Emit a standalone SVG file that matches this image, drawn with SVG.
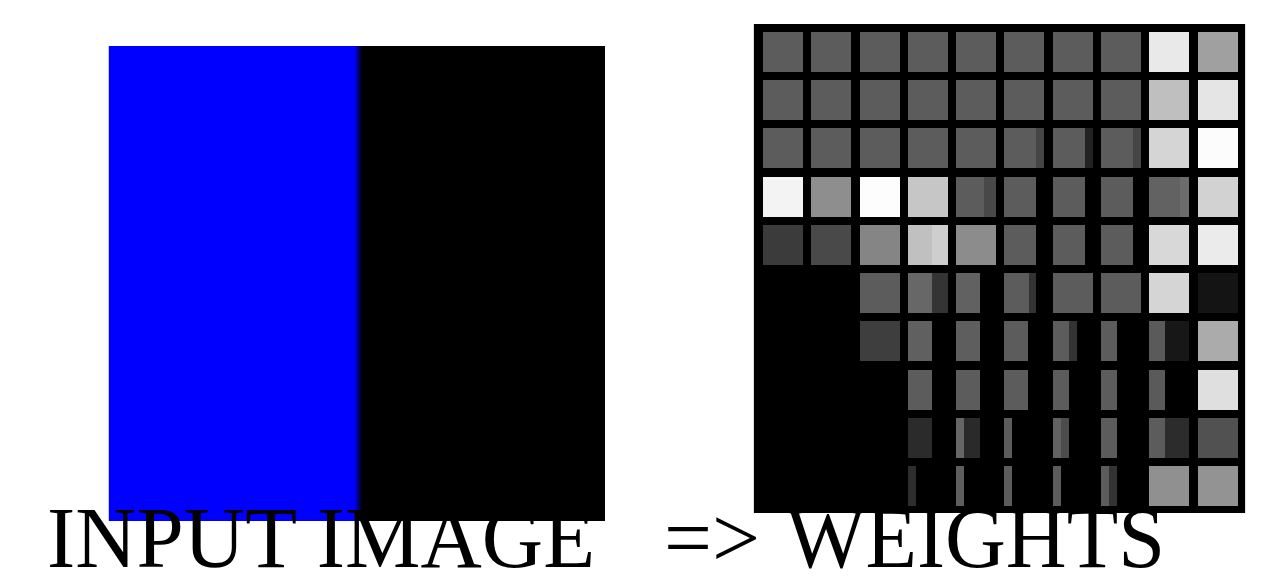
<svg xmlns="http://www.w3.org/2000/svg" width="1279" height="576" viewBox="0 0 1279 576">
  <defs>
    <linearGradient id="bk" x1="0" y1="0" x2="1" y2="0">
      <stop offset="0" stop-color="#0000ff"/>
      <stop offset="0.495" stop-color="#0000ff"/>
      <stop offset="0.51" stop-color="#000000"/>
      <stop offset="1" stop-color="#000000"/>
    </linearGradient>
    <style>
      .g{fill:#5c5c5c}
      .lbl{font-family:"Liberation Serif","Times New Roman",serif;font-size:87px;fill:#000}
    </style>
  </defs>
  <rect width="1279" height="576" fill="#ffffff"/>
  <g id="input-image">
    <rect x="108" y="46" width="2" height="475" fill="#c8c8f0"/>
    <rect x="109" y="46" width="496" height="475" fill="url(#bk)"/>
  </g>
  <g id="weights">
    <rect x="753" y="24" width="493" height="489" fill="#e0e0e0"/>
    <rect x="754" y="24" width="491" height="489" fill="#000"/>
    <!-- row 1 -->
    <rect class="g" x="763" y="32" width="40" height="40"/>
    <rect class="g" x="811" y="32" width="40" height="40"/>
    <rect class="g" x="860" y="32" width="40" height="40"/>
    <rect class="g" x="908" y="32" width="40" height="40"/>
    <rect class="g" x="956" y="32" width="40" height="40"/>
    <rect class="g" x="1004" y="32" width="40" height="40"/>
    <rect class="g" x="1053" y="32" width="40" height="40"/>
    <rect class="g" x="1101" y="32" width="40" height="40"/>
    <rect x="1149" y="32" width="40" height="40" fill="#e9e9e9"/>
    <rect x="1198" y="32" width="40" height="40" fill="#a0a0a0"/>
    <!-- row 2 -->
    <rect class="g" x="763" y="80" width="40" height="40"/>
    <rect class="g" x="811" y="80" width="40" height="40"/>
    <rect class="g" x="860" y="80" width="40" height="40"/>
    <rect class="g" x="908" y="80" width="40" height="40"/>
    <rect class="g" x="956" y="80" width="40" height="40"/>
    <rect class="g" x="1004" y="80" width="40" height="40"/>
    <rect class="g" x="1053" y="80" width="40" height="40"/>
    <rect class="g" x="1101" y="80" width="40" height="40"/>
    <rect x="1149" y="80" width="40" height="40" fill="#bfbfbf"/>
    <rect x="1198" y="80" width="40" height="40" fill="#e5e5e5"/>
    <!-- row 3 -->
    <rect class="g" x="763" y="128" width="40" height="40"/>
    <rect class="g" x="811" y="128" width="40" height="40"/>
    <rect class="g" x="860" y="128" width="40" height="40"/>
    <rect class="g" x="908" y="128" width="40" height="40"/>
    <rect class="g" x="956" y="128" width="40" height="40"/>
    <rect class="g" x="1004" y="128" width="32" height="40"/>
    <rect x="1036" y="128" width="8" height="40" fill="#454545"/>
    <rect class="g" x="1053" y="128" width="32" height="40"/>
    <rect x="1085" y="128" width="8" height="40" fill="#222222"/>
    <rect class="g" x="1101" y="128" width="32" height="40"/>
    <rect x="1133" y="128" width="8" height="40" fill="#464646"/>
    <rect x="1149" y="128" width="40" height="40" fill="#d5d5d5"/>
    <rect x="1198" y="128" width="40" height="40" fill="#fcfcfc"/>
    <!-- row 4 -->
    <rect x="763" y="177" width="40" height="40" fill="#f3f3f3"/>
    <rect x="811" y="177" width="40" height="40" fill="#8e8e8e"/>
    <rect x="860" y="177" width="40" height="40" fill="#fdfdfd"/>
    <rect x="908" y="177" width="40" height="40" fill="#c6c6c6"/>
    <rect class="g" x="956" y="177" width="40" height="40"/>
    <rect x="984" y="177" width="12" height="40" fill="#484848"/>
    <rect class="g" x="1004" y="177" width="32" height="40"/>
    <rect class="g" x="1053" y="177" width="32" height="40"/>
    <rect class="g" x="1101" y="177" width="32" height="40"/>
    <rect x="1149" y="177" width="40" height="40" fill="#626262"/>
    <rect x="1180" y="177" width="9" height="40" fill="#6c6c6c"/>
    <rect x="1198" y="177" width="40" height="40" fill="#d2d2d2"/>
    <!-- row 5 -->
    <rect x="763" y="225" width="40" height="40" fill="#3b3b3b"/>
    <rect x="811" y="225" width="40" height="40" fill="#494949"/>
    <rect x="860" y="225" width="40" height="40" fill="#858585"/>
    <rect x="908" y="225" width="40" height="40" fill="#c0c0c0"/>
    <rect x="932" y="225" width="16" height="40" fill="#cecece"/>
    <rect x="956" y="225" width="40" height="40" fill="#8c8c8c"/>
    <rect class="g" x="1004" y="225" width="32" height="40"/>
    <rect class="g" x="1053" y="225" width="32" height="40"/>
    <rect class="g" x="1101" y="225" width="32" height="40"/>
    <rect x="1149" y="225" width="40" height="40" fill="#d8d8d8"/>
    <rect x="1198" y="225" width="40" height="40" fill="#ebebeb"/>
    <!-- row 6 -->
    <rect class="g" x="860" y="273" width="40" height="40"/>
    <rect x="908" y="273" width="24" height="40" fill="#676767"/>
    <rect x="932" y="273" width="16" height="40" fill="#343434"/>
    <rect x="956" y="273" width="24" height="40" fill="#616161"/>
    <rect class="g" x="1004" y="273" width="25" height="40"/>
    <rect x="1029" y="273" width="7" height="40" fill="#333333"/>
    <rect class="g" x="1053" y="273" width="40" height="40"/>
    <rect class="g" x="1101" y="273" width="40" height="40"/>
    <rect x="1149" y="273" width="40" height="40" fill="#d5d5d5"/>
    <rect x="1198" y="273" width="40" height="40" fill="#141414"/>
    <!-- row 7 -->
    <rect x="860" y="321" width="40" height="40" fill="#3e3e3e"/>
    <rect x="908" y="321" width="24" height="40" fill="#606060"/>
    <rect x="956" y="321" width="24" height="40" fill="#5e5e5e"/>
    <rect class="g" x="1004" y="321" width="24" height="40"/>
    <rect class="g" x="1053" y="321" width="16" height="40"/>
    <rect x="1069" y="321" width="8" height="40" fill="#333333"/>
    <rect class="g" x="1101" y="321" width="16" height="40"/>
    <rect x="1149" y="321" width="16" height="40" fill="#5a5a5a"/>
    <rect x="1165" y="321" width="24" height="40" fill="#171717"/>
    <rect x="1198" y="321" width="40" height="40" fill="#ababab"/>
    <!-- row 8 -->
    <rect class="g" x="908" y="370" width="24" height="40"/>
    <rect class="g" x="956" y="370" width="24" height="40"/>
    <rect class="g" x="1004" y="370" width="24" height="40"/>
    <rect class="g" x="1053" y="370" width="16" height="40"/>
    <rect class="g" x="1101" y="370" width="16" height="40"/>
    <rect x="1149" y="370" width="16" height="40" fill="#5a5a5a"/>
    <rect x="1198" y="370" width="40" height="40" fill="#dfdfdf"/>
    <!-- row 9 -->
    <rect x="908" y="418" width="24" height="40" fill="#2b2b2b"/>
    <rect x="956" y="418" width="8" height="40" fill="#666666"/>
    <rect x="964" y="418" width="16" height="40" fill="#2a2a2a"/>
    <rect class="g" x="1004" y="418" width="8" height="40"/>
    <rect x="1053" y="418" width="8" height="40" fill="#626262"/>
    <rect x="1061" y="418" width="8" height="40" fill="#4c4c4c"/>
    <rect class="g" x="1101" y="418" width="16" height="40"/>
    <rect class="g" x="1149" y="418" width="16" height="40"/>
    <rect x="1165" y="418" width="24" height="40" fill="#2c2c2c"/>
    <rect x="1198" y="418" width="40" height="40" fill="#515151"/>
    <!-- row 10 -->
    <rect x="908" y="466" width="8" height="40" fill="#2e2e2e"/>
    <rect x="956" y="466" width="8" height="40" fill="#5e5e5e"/>
    <rect class="g" x="1004" y="466" width="8" height="40"/>
    <rect class="g" x="1053" y="466" width="8" height="40"/>
    <rect class="g" x="1101" y="466" width="8" height="40"/>
    <rect x="1109" y="466" width="8" height="40" fill="#333333"/>
    <rect x="1149" y="466" width="40" height="40" fill="#909090"/>
    <rect x="1198" y="466" width="40" height="40" fill="#939393"/>
  </g>
  <g id="caption">
    <text class="lbl" x="47" y="567" textLength="548" lengthAdjust="spacingAndGlyphs">INPUT IMAGE</text>
    <text class="lbl" x="664" y="567" textLength="96" lengthAdjust="spacingAndGlyphs">=&gt;</text>
    <text class="lbl" x="786" y="567" textLength="379" lengthAdjust="spacingAndGlyphs">WEIGHTS</text>
  </g>
</svg>
